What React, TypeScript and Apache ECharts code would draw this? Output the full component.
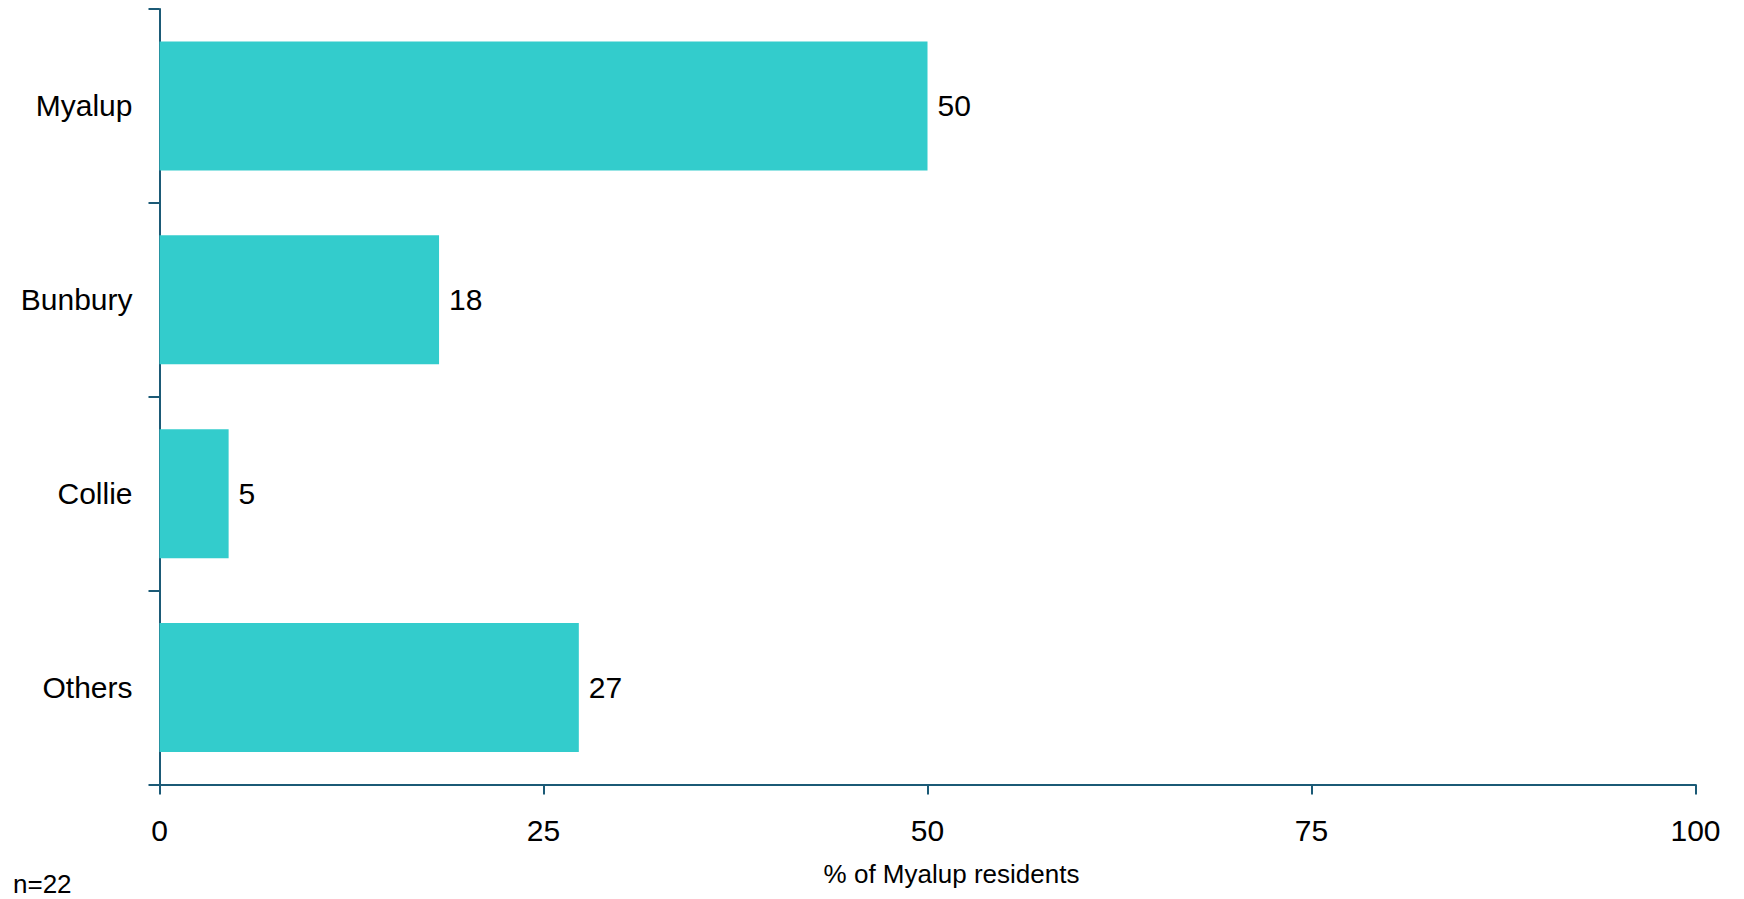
import React, { useEffect, useRef } from "react";
import * as echarts from "echarts";

const categories = ["Myalup", "Bunbury", "Collie", "Others"];
const values = [50, 18.2, 4.5, 27.3];
const xTicks = [0, 25, 50, 75, 100];
const axisTitle = "% of Myalup residents";
const footnote = "n=22";

export default function App() {
  const ref = useRef<HTMLDivElement>(null);
  useEffect(() => {
    if (!ref.current) return;
    const chart = echarts.init(ref.current, null, { renderer: "svg" });
    const font = "'Liberation Sans', Arial, Helvetica, sans-serif";
    const axisColor = "#1B5A76";
    chart.setOption({
      animation: false,
      backgroundColor: "#ffffff",
      grid: { left: 159.5, right: 48.5, top: 9, bottom: 114.5, containLabel: false },
      xAxis: {
        type: "value",
        min: xTicks[0],
        max: xTicks[xTicks.length - 1],
        interval: xTicks[1] - xTicks[0],
        splitLine: { show: false },
        axisLine: { show: true, lineStyle: { color: axisColor, width: 2 } },
        axisTick: { show: true, inside: false, length: 10, lineStyle: { color: axisColor, width: 2 } },
        axisLabel: { color: "#000", fontSize: 30, fontFamily: font, margin: 31 },
        name: axisTitle,
        nameLocation: "middle",
        nameGap: 76,
        nameTextStyle: { color: "#000", fontSize: 26, fontFamily: font, padding: [0, 0, 0, 48] },
      },
      yAxis: {
        type: "category",
        data: categories,
        inverse: true,
        axisLine: { show: true, lineStyle: { color: axisColor, width: 2 } },
        axisTick: { show: true, inside: false, length: 11, alignWithLabel: false, lineStyle: { color: axisColor, width: 2 } },
        axisLabel: { color: "#000", fontSize: 30, fontFamily: font, margin: 27 },
        splitLine: { show: false },
      },
      series: [
        {
          type: "bar",
          data: values,
          barCategoryGap: "33.5%",
          itemStyle: { color: "#33CCCC" },
          label: {
            show: true,
            position: "right",
            distance: 10,
            color: "#000",
            fontSize: 30,
            fontFamily: font,
            formatter: (p: any) => String(Math.round(p.value)),
          },
        },
      ],
      graphic: [
        {
          type: "text",
          left: 13,
          top: 871,
          style: { text: footnote, fill: "#000", fontSize: 26, fontFamily: font },
        },
      ],
    });
    return () => chart.dispose();
  }, []);
  return (
    <div
      ref={ref}
      style={{ position: "fixed", left: 0, top: 0, width: 1744, height: 899, background: "#fff" }}
    />
  );
}
